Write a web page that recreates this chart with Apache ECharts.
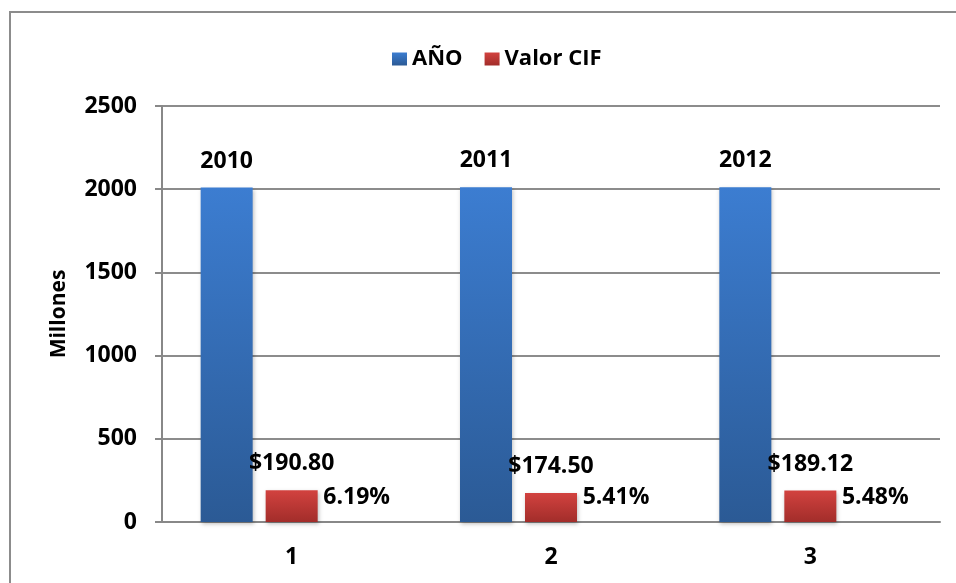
<!DOCTYPE html>
<html>
<head>
<meta charset="utf-8">
<script src="https://cdn.jsdelivr.net/npm/echarts@6/dist/echarts.min.js"></script>
<style>
html,body{margin:0;padding:0;background:#fff;}
#chart{width:956px;height:583px;}
</style>
</head>
<body>
<div id="chart"></div>
<script>
const categories = ['1', '2', '3'];
const anoValues = [2010, 2011, 2012];
const cifValues = [190.80, 174.50, 189.12];
const pctValues = [6.19, 5.41, 5.48];
const yTicks = [0, 500, 1000, 1500, 2000, 2500];

const FONT = 'Open Sans';
const chart = echarts.init(document.getElementById('chart'));

function grad(top, bottom) {
  return new echarts.graphic.LinearGradient(0, 0, 0, 1, [
    { offset: 0, color: top },
    { offset: 1, color: bottom }
  ]);
}

const labelStyle = {
  show: true,
  position: 'top',
  distance: 15,
  fontFamily: FONT,
  fontWeight: 'bold',
  fontSize: 23,
  color: '#000'
};

chart.setOption({
  animation: false,
  backgroundColor: '#fff',
  graphic: [{
    type: 'rect',
    shape: { x: 10, y: 12, width: 960, height: 600 },
    style: { fill: 'none', stroke: '#8c8c8c', lineWidth: 2 },
    silent: true,
    z: -1
  }],
  legend: {
    data: ['AÑO', 'Valor CIF'],
    left: 387,
    top: 43,
    itemWidth: 15,
    itemHeight: 13,
    itemGap: 22,
    icon: 'rect',
    textStyle: { fontFamily: FONT, fontWeight: 'bold', fontSize: 22, color: '#000' }
  },
  grid: { left: 162, right: 16, top: 106, bottom: 61, containLabel: false },
  xAxis: {
    type: 'category',
    data: categories,
    axisLine: { show: true, lineStyle: { color: '#888', width: 2 } },
    axisTick: { show: false },
    axisLabel: { margin: 24, fontFamily: FONT, fontWeight: 'bold', fontSize: 23, color: '#000' }
  },
  yAxis: {
    type: 'value',
    min: yTicks[0],
    max: yTicks[yTicks.length - 1],
    interval: yTicks[1] - yTicks[0],
    name: 'Millones',
    nameLocation: 'middle',
    nameGap: 92,
    nameTextStyle: { fontFamily: FONT, fontWeight: 'bold', fontSize: 21, color: '#000' },
    axisLine: { show: true, lineStyle: { color: '#888', width: 2 } },
    axisTick: { show: true, inside: false, length: 7, lineStyle: { color: '#888', width: 2 } },
    axisLabel: { margin: 25, fontFamily: FONT, fontWeight: 'bold', fontSize: 23, color: '#000', formatter: v => String(v) },
    splitLine: { show: true, lineStyle: { color: '#8c8c8c', width: 2 } }
  },
  series: [
    {
      name: 'AÑO',
      type: 'bar',
      data: anoValues,
      barWidth: 52,
      barGap: '25%',
      itemStyle: { color: grad('#3c7dd1', '#2b5a95'), shadowColor: 'rgba(0,0,0,0.25)', shadowBlur: 4, shadowOffsetX: 1, shadowOffsetY: 2 },
      label: Object.assign({}, labelStyle)
    },
    {
      name: 'Valor CIF',
      type: 'bar',
      data: cifValues,
      barWidth: 52,
      barGap: '25%',
      itemStyle: { color: grad('#d2423f', '#a22d2a'), shadowColor: 'rgba(0,0,0,0.25)', shadowBlur: 4, shadowOffsetX: 1, shadowOffsetY: 2 },
      label: Object.assign({}, labelStyle, { formatter: p => '$' + p.value.toFixed(2) })
    },
    {
      name: 'Porcentaje',
      type: 'bar',
      data: pctValues.map(v => v / 100),
      barWidth: 52,
      barGap: '25%',
      itemStyle: { color: 'rgba(0,0,0,0)' },
      label: Object.assign({}, labelStyle, { distance: 13, formatter: p => pctValues[p.dataIndex].toFixed(2) + '%' })
    }
  ]
});
</script>
</body>
</html>
